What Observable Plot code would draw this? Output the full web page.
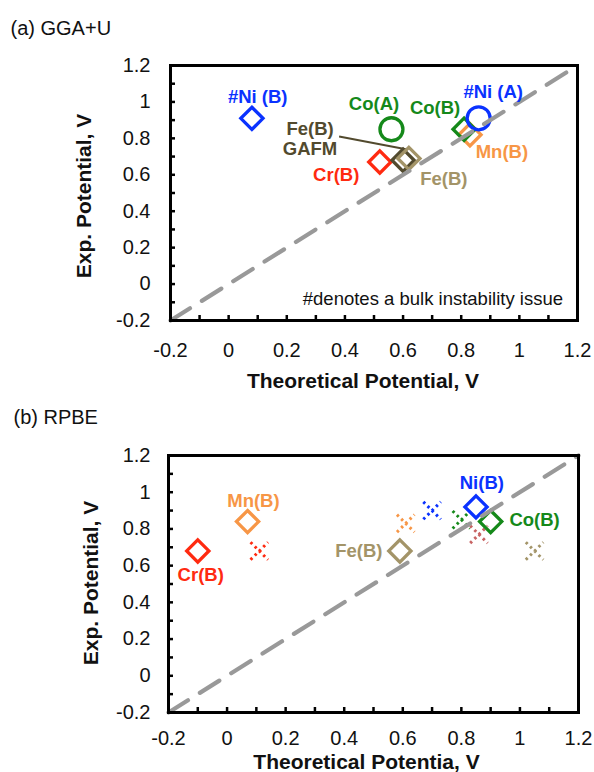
<!DOCTYPE html>
<html>
<head>
<meta charset="utf-8">
<script src="https://cdn.jsdelivr.net/npm/d3@7"></script>
<script src="https://cdn.jsdelivr.net/npm/@observablehq/plot@0.6"></script>
<style>
  html, body { margin: 0; padding: 0; background: #fff; }
  #wrap { position: relative; width: 594px; height: 772px; overflow: hidden; }
  #wrap svg { display: block; }
</style>
</head>
<body>
<div id="wrap"></div>
<script>
// ---------- shared axis data ----------
const majorTicks = [-0.2, 0, 0.2, 0.4, 0.6, 0.8, 1, 1.2];
const minorTicks = [-0.2, -0.1, 0, 0.1, 0.2, 0.3, 0.4, 0.5, 0.6, 0.7, 0.8, 0.9, 1, 1.1, 1.2];
const diagonal = [-0.2, 1.2];

// ---------- (a) GGA+U data ----------
const ggaNames   = ["#Ni (B)", "Co(A)", "Cr(B)", "Fe(B) GAFM", "Fe(B)", "Mn(B)", "Co(B)", "#Ni (A)"];
const ggaElement = ["Ni", "Co", "Cr", "FeGAFM", "Fe", "Mn", "Co", "Ni"];
const ggaSite    = ["B", "A", "B", "B", "B", "B", "B", "A"];
const ggaTheo    = [0.08, 0.56, 0.52, 0.60, 0.62, 0.83, 0.81, 0.86];
const ggaExp     = [0.91, 0.85, 0.67, 0.68, 0.69, 0.82, 0.85, 0.91];

// labels of (a)
const ggaLabelText = ["#Ni (B)", "Co(A)", "Co(B)", "#Ni (A)", "Fe(B)\nGAFM", "Cr(B)", "Fe(B)", "Mn(B)"];
const ggaLabelEl   = ["Ni", "Co", "Co", "Ni", "FeGAFM", "Cr", "Fe", "Mn"];
const ggaLabelX    = [0.10, 0.50, 0.71, 0.91, 0.28, 0.37, 0.74, 0.94];
const ggaLabelY    = [1.03, 0.99, 0.97, 1.06, 0.80, 0.60, 0.58, 0.73];
const ggaLeader    = {x1: 0.38, y1: 0.81, x2: 0.61, y2: 0.74};
const ggaNote      = {text: "#denotes a bulk instability issue", x: 1.15, y: -0.08};

// ---------- (b) RPBE data ----------
const rpbeNames   = ["Cr(B)", "Mn(B)", "Fe(B)", "Co(B)", "Ni(B)"];
const rpbeElement = ["Cr", "Mn", "Fe", "Co", "Ni"];
const rpbeTheo    = [-0.10, 0.07, 0.59, 0.90, 0.85];
const rpbeExp     = [0.68, 0.84, 0.68, 0.84, 0.92];

// dotted cross markers of (b)
const crossElement = ["Cr", "Mn", "Ni", "Co", "Pink", "Fe"];
const crossTheo    = [0.11, 0.61, 0.70, 0.80, 0.86, 1.05];
const crossExp     = [0.68, 0.83, 0.90, 0.85, 0.77, 0.68];

// labels of (b)
const rpbeLabelText = ["Cr(B)", "Mn(B)", "Fe(B)", "Ni(B)", "Co(B)"];
const rpbeLabelEl   = ["Cr", "Mn", "Fe", "Ni", "Co"];
const rpbeLabelX    = [-0.09, 0.09, 0.45, 0.87, 1.05];
const rpbeLabelY    = [0.55, 0.95, 0.68, 1.05, 0.85];

// ---------- styles ----------
const colorOf = {
  Ni: "#0a32ff", Co: "#15891a", Cr: "#ff2a10", Mn: "#f79646",
  Fe: "#a39468", FeGAFM: "#524a2e", Pink: "#c86464"
};
const FONT = "'Liberation Sans', Arial, Helvetica, sans-serif";
const fmt = d => String(Math.round(d * 10) / 10);

function zip(n, f) { return Array.from({length: n}, (_, i) => f(i)); }

const gga = zip(ggaNames.length, i => ({name: ggaNames[i], el: ggaElement[i], site: ggaSite[i], x: ggaTheo[i], y: ggaExp[i]}));
const ggaLabels = zip(ggaLabelText.length, i => ({text: ggaLabelText[i], el: ggaLabelEl[i], x: ggaLabelX[i], y: ggaLabelY[i]}));
const rpbe = zip(rpbeNames.length, i => ({name: rpbeNames[i], el: rpbeElement[i], x: rpbeTheo[i], y: rpbeExp[i]}));
const cross = zip(crossElement.length, i => ({el: crossElement[i], x: crossTheo[i], y: crossExp[i]}));
const rpbeLabels = zip(rpbeLabelText.length, i => ({text: rpbeLabelText[i], el: rpbeLabelEl[i], x: rpbeLabelX[i], y: rpbeLabelY[i]}));
const diag = diagonal.map(v => ({x: v, y: v}));

function axes(xPad, yPad) {
  return [
    Plot.axisX(minorTicks, {tickSize: -5, strokeWidth: 2.5, tickFormat: () => "", label: null}),
    Plot.axisY(minorTicks, {tickSize: -5, strokeWidth: 2.5, tickFormat: () => "", label: null}),
    Plot.axisX(majorTicks, {tickSize: 0, tickPadding: xPad, tickFormat: fmt, fontSize: 20, label: null, fill: "#111"}),
    Plot.axisY(majorTicks, {tickSize: 0, tickPadding: yPad, tickFormat: fmt, fontSize: 20, label: null, fill: "#111"})
  ];
}

const diagLine = Plot.line(diag, {x: "x", y: "y", stroke: "#999999", strokeWidth: 4.2, strokeDasharray: "23,14"});

// ---------- panel (a) ----------
const plotA = Plot.plot({
  width: 594, height: 390,
  marginLeft: 170, marginRight: 17, marginTop: 65, marginBottom: 70,
  x: {domain: [-0.2, 1.2]},
  y: {domain: [-0.2, 1.2]},
  style: {fontFamily: FONT, background: "white", overflow: "visible"},
  marks: [
    ...axes(22, 20),
    Plot.link([ggaLeader], {x1: "x1", y1: "y1", x2: "x2", y2: "y2", stroke: colorOf.FeGAFM, strokeWidth: 2}),
    Plot.dot(gga.filter(d => d.site === "B"), {x: "x", y: "y", symbol: "diamond2", r: 10, stroke: d => colorOf[d.el], strokeWidth: 3.3, fill: "none"}),
    Plot.dot(gga.filter(d => d.site === "A"), {x: "x", y: "y", symbol: "circle", r: 11.5, stroke: d => colorOf[d.el], strokeWidth: 3.3, fill: "none"}),
    diagLine,
    Plot.text(ggaLabels, {x: "x", y: "y", text: "text", fill: d => colorOf[d.el], fontWeight: "bold", fontSize: 18.5, lineHeight: 1.1}),
    Plot.text([ggaNote], {x: "x", y: "y", text: "text", textAnchor: "end", fontSize: 18.5, fill: "#111"}),
    Plot.frame({stroke: "black", strokeWidth: 3}),
    Plot.text(["Theoretical Potential, V"], {frameAnchor: "bottom", lineAnchor: "bottom", textAnchor: "middle", dx: -11, dy: 67, fontWeight: "bold", fontSize: 21, fill: "#111"}),
    Plot.text(["Exp. Potential, V"], {frameAnchor: "left", lineAnchor: "bottom", textAnchor: "middle", rotate: -90, dx: -80, dy: 3, fontWeight: "bold", fontSize: 21, fill: "#111"}),
    Plot.text(["(a) GGA+U"], {frameAnchor: "top-left", lineAnchor: "bottom", textAnchor: "start", dx: -160, dy: -31, fontSize: 20, fill: "#111"})
  ]
});

// ---------- panel (b) ----------
const plotB = Plot.plot({
  width: 594, height: 382,
  marginLeft: 168, marginRight: 16, marginTop: 65, marginBottom: 60,
  x: {domain: [-0.2, 1.2]},
  y: {domain: [-0.2, 1.2]},
  style: {fontFamily: FONT, background: "white", overflow: "visible"},
  marks: [
    ...axes(18, 18),
    Plot.dot(cross, {x: "x", y: "y", symbol: "times", r: 8, stroke: d => colorOf[d.el], strokeWidth: 3, strokeDasharray: "2.5,3.5"}),
    Plot.dot(rpbe, {x: "x", y: "y", symbol: "diamond2", r: 10, stroke: d => colorOf[d.el], strokeWidth: 3.3, fill: "none"}),
    diagLine,
    Plot.text(rpbeLabels, {x: "x", y: "y", text: "text", fill: d => colorOf[d.el], fontWeight: "bold", fontSize: 18.5}),
    Plot.frame({stroke: "black", strokeWidth: 3}),
    Plot.text(["Theoretical Potentia, V"], {frameAnchor: "bottom", lineAnchor: "bottom", textAnchor: "middle", dx: -7, dy: 56, fontWeight: "bold", fontSize: 21, fill: "#111"}),
    Plot.text(["Exp. Potential, V"], {frameAnchor: "left", lineAnchor: "bottom", textAnchor: "middle", rotate: -90, dx: -71, dy: -1, fontWeight: "bold", fontSize: 21, fill: "#111"}),
    Plot.text(["(b) RPBE"], {frameAnchor: "top-left", lineAnchor: "bottom", textAnchor: "start", dx: -155, dy: -32, fontSize: 20, fill: "#111"})
  ]
});

const wrap = document.getElementById("wrap");
wrap.appendChild(plotA);
wrap.appendChild(plotB);
</script>
</body>
</html>
